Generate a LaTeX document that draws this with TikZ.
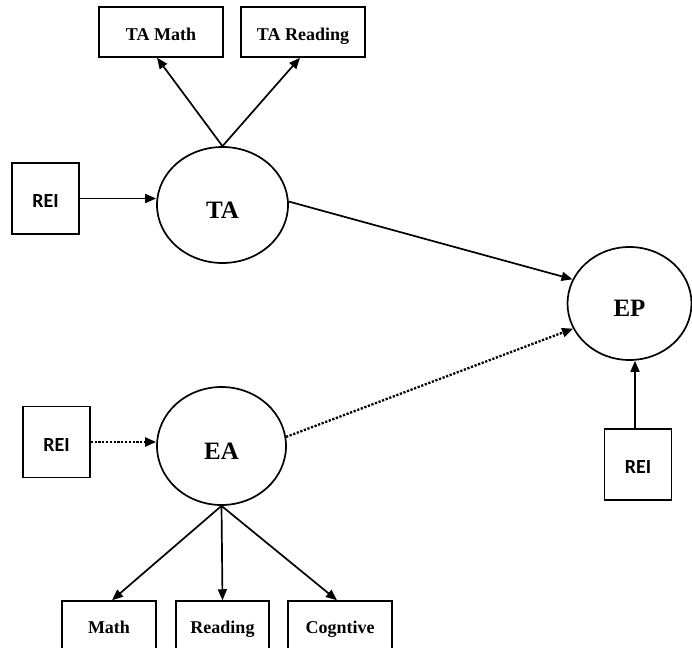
\documentclass[tikz,border=0pt]{standalone}
\usepackage{fontspec}
\setmainfont{Liberation Serif}
\newfontfamily\reifont{Carlito}
\usetikzlibrary{arrows.meta,shapes.geometric}
\tikzset{
  latent/.style={ellipse, draw, line width=1.7pt, inner sep=0pt, text height=26pt, text depth=0pt, font=\bfseries\fontsize{25}{28}\selectfont},
  obsbox/.style={rectangle, draw, line width=1.5pt, inner sep=0pt, text height=21pt, text depth=4pt, font=\bfseries\fontsize{18}{20}\selectfont},
  reibox/.style={rectangle, draw, line width=1.5pt, inner sep=0pt, minimum width=67pt, minimum height=71pt, text height=18pt, text depth=0pt, font=\reifont\bfseries\fontsize{20}{22}\selectfont},
  arr/.style={line width=1.7pt, -{Triangle[length=11pt,width=9pt]}},
  darr/.style={line width=2.3pt, dash pattern=on 2.2pt off 1.6pt, -{Triangle[length=11pt,width=9pt]}},
}
\begin{document}
\begin{tikzpicture}[x=1pt,y=-1pt]
\useasboundingbox (0,0) rectangle (692,647);
\clip (0,0) rectangle (692,647);
% latent variables
\node[latent, minimum width=131pt, minimum height=116pt] (TA) at (222.5,205) {TA};
\node[latent, minimum width=129pt, minimum height=118pt] (EA) at (221.5,446) {EA};
\node[latent, minimum width=124pt, minimum height=113pt] (EP) at (629.5,303.5) {EP};
% indicators
\node[obsbox, minimum width=124pt, minimum height=50pt] (TAM) at (161,32) {TA Math};
\node[obsbox, minimum width=124pt, minimum height=50pt] (TAR) at (303,32) {TA Reading};
\node[obsbox, minimum width=94pt, minimum height=48pt] (M) at (109,625) {Math};
\node[obsbox, minimum width=93pt, minimum height=48pt] (R) at (222.5,625) {Reading};
\node[obsbox, minimum width=104pt, minimum height=48pt] (C) at (340,625) {Cogntive};
% REI boxes
\node[reibox] (REI1) at (45.5,198.5) {REI};
\node[reibox] (REI2) at (56.5,442) {REI};
\node[reibox] (REI3) at (638,464.5) {REI};
% connectors
\draw[arr] (TA.north) -- ([xshift=-4pt]TAM.south);
\draw[arr] (TA.north) -- ([xshift=-3pt]TAR.south);
\draw[arr] (REI1.east) -- (TA.west |- REI1.east);
\draw[darr] (REI2.east) -- (EA.west |- REI2.east);
\draw[arr] (TA.3) -- (EP.157);
\draw[darr] (EA.8) -- (EP.204);
\draw[arr] ([xshift=-3pt]REI3.north) -- ([xshift=-3pt]REI3.north |- EP.south);
\draw[arr] (EA.south) -- ([xshift=3pt]M.north);
\draw[arr] (EA.south) -- (R.north);
\draw[arr] (EA.south) -- ([xshift=-3pt]C.north);
\end{tikzpicture}
\end{document}
